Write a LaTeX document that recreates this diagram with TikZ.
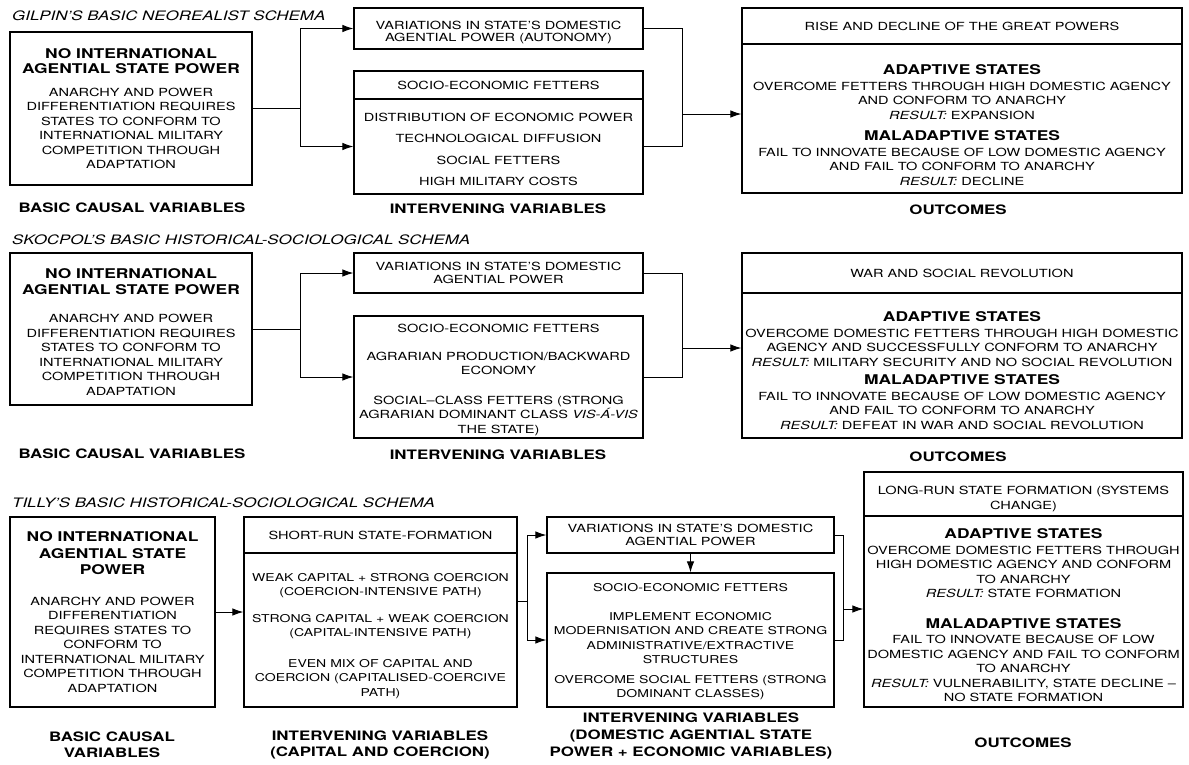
\documentclass[tikz,border=0pt]{standalone}
\usepackage{fontspec}
\setmainfont{TeX Gyre Heros}[FakeStretch=1.3]
\usetikzlibrary{arrows.meta}

\newcommand{\bighead}[1]{{\fontsize{13.4}{16}\selectfont\bfseries #1}}
\newcommand{\resultlabel}{\textit{RESULT:}}
\newcommand{\lift}[1]{\rule{0pt}{#1pt}}

\begin{document}
\begin{tikzpicture}[x=1pt,y=-1pt]
		\tikzset{box/.style = {draw, line width=1.1pt, align=center, inner sep=1.5pt, font=\fontsize{11.2}{14.5}\selectfont},
			tight/.style = {font=\fontsize{11.2}{12.5}\selectfont},
			small/.style = {font=\fontsize{10.8}{14.5}\selectfont},
			caption/.style = {align=center, font=\fontsize{13}{16}\selectfont\bfseries},
			heading/.style = {anchor=west, inner sep=0pt, font=\fontsize{13}{16}\selectfont\itshape},
			wire/.style = {line width=1pt},
			arr/.style = {wire, -{Latex[length=11pt,width=7.5pt]}}}

		\useasboundingbox (0,0) rectangle (1189,764);

		\node[heading] (T_1) at (12,16) {GILPIN'S BASIC NEOREALIST SCHEMA};
		\node[heading] (T_2) at (12,240) {SKOCPOL'S BASIC HISTORICAL-SOCIOLOGICAL SCHEMA};
		\node[heading] (T_3) at (12,503) {TILLY'S BASIC HISTORICAL-SOCIOLOGICAL SCHEMA};


		\node[box, minimum width=242, minimum height=153] (A_1) at (131,108.5) {\bighead{NO INTERNATIONAL}\\[1pt] \bighead{AGENTIAL STATE POWER}\\[8pt] ANARCHY AND POWER\\ DIFFERENTIATION REQUIRES\\ STATES TO CONFORM TO\\ INTERNATIONAL MILITARY\\ COMPETITION THROUGH\\ ADAPTATION};
		\node[box, tight, minimum width=289, minimum height=41] (V_1) at (498.5,28.5) {\lift{16.5}VARIATIONS IN STATE'S DOMESTIC\\ AGENTIAL POWER (AUTONOMY)};
		\node[box, minimum width=289, minimum height=28] (H_1) at (498.5,85) {SOCIO-ECONOMIC FETTERS};
		\node[box, minimum width=289, minimum height=95] (G_1) at (498.5,146.5) {\lift{14.5}DISTRIBUTION OF ECONOMIC POWER\\[7pt] TECHNOLOGICAL DIFFUSION\\[7pt] SOCIAL FETTERS\\[7pt] HIGH MILITARY COSTS};
		\node[box, minimum width=440, minimum height=36] (O_1) at (962,26) {RISE AND DECLINE OF THE GREAT POWERS};
		\node[box, minimum width=440, minimum height=149] (P_1) at (962,118.5) {\lift{23}\bighead{ADAPTIVE STATES}\\[1pt] OVERCOME FETTERS THROUGH HIGH DOMESTIC AGENCY\\ AND CONFORM TO ANARCHY\\ \resultlabel{} EXPANSION\\[7pt] \bighead{MALADAPTIVE STATES}\\[1pt] FAIL TO INNOVATE BECAUSE OF LOW DOMESTIC AGENCY\\ AND FAIL TO CONFORM TO ANARCHY\\ \resultlabel{} DECLINE};

		\node[caption] (L_1) at (132,208) {BASIC CAUSAL VARIABLES};
		\node[caption] (M_1) at (498,209) {INTERVENING VARIABLES};
		\node[caption] (N_1) at (958,210) {OUTCOMES};

		\coordinate (J_1) at (300,108.5);
		\coordinate (K_1) at (682,114);

		\draw[wire] (A_1.east) -- (J_1);
		\draw[arr] (J_1) |- (V_1);
		\draw[arr] (J_1) |- (G_1);
		\draw[wire] (V_1) -| (K_1);
		\draw[wire] (G_1) -| (K_1);
		\draw[arr] (K_1) -- (K_1 -| P_1.west);


		\node[box, minimum width=242, minimum height=152] (A_2) at (131,329) {\lift{16}\bighead{NO INTERNATIONAL}\\[1pt] \bighead{AGENTIAL STATE POWER}\\[14pt] ANARCHY AND POWER\\ DIFFERENTIATION REQUIRES\\ STATES TO CONFORM TO\\ INTERNATIONAL MILITARY\\ COMPETITION THROUGH\\ ADAPTATION};
		\node[box, tight, minimum width=289, minimum height=40] (V_2) at (498.5,273) {VARIATIONS IN STATE'S DOMESTIC\\ AGENTIAL POWER};
		\node[box, minimum width=289, minimum height=122] (G_2) at (498.5,377) {\lift{14.5}SOCIO-ECONOMIC FETTERS\\[13pt] AGRARIAN PRODUCTION/BACKWARD\\ ECONOMY\\[15pt] SOCIAL--CLASS FETTERS (STRONG\\ AGRARIAN DOMINANT CLASS \textit{VIS-Á-VIS}\\ THE STATE)};
		\node[box, minimum width=440, minimum height=40] (O_2) at (962,273) {WAR AND SOCIAL REVOLUTION};
		\node[box, minimum width=440, minimum height=145] (P_2) at (962,365.5) {\lift{20}\bighead{ADAPTIVE STATES}\\[1pt] OVERCOME DOMESTIC FETTERS THROUGH HIGH DOMESTIC\\ AGENCY AND SUCCESSFULLY CONFORM TO ANARCHY\\ \resultlabel{} MILITARY SECURITY AND NO SOCIAL REVOLUTION\\[4pt] \bighead{MALADAPTIVE STATES}\\[1pt] FAIL TO INNOVATE BECAUSE OF LOW DOMESTIC AGENCY\\ AND FAIL TO CONFORM TO ANARCHY\\ \resultlabel{} DEFEAT IN WAR AND SOCIAL REVOLUTION};

		\node[caption] (L_2) at (132,454) {BASIC CAUSAL VARIABLES};
		\node[caption] (M_2) at (498,455) {INTERVENING VARIABLES};
		\node[caption] (N_2) at (958,457) {OUTCOMES};

		\coordinate (J_2) at (300,329);
		\coordinate (K_2) at (682,348);

		\draw[wire] (A_2.east) -- (J_2);
		\draw[arr] (J_2) |- (V_2);
		\draw[arr] (J_2) |- (G_2);
		\draw[wire] (V_2) -| (K_2);
		\draw[wire] (G_2) -| (K_2);
		\draw[arr] (K_2) -- (K_2 -| P_2.west);


		\node[box, minimum width=205, minimum height=190] (A_3) at (112.5,612) {\bighead{NO INTERNATIONAL}\\[2pt] \bighead{AGENTIAL STATE}\\[2pt] \bighead{POWER}\\[16pt] ANARCHY AND POWER\\ DIFFERENTIATION\\ REQUIRES STATES TO\\ CONFORM TO\\ INTERNATIONAL MILITARY\\ COMPETITION THROUGH\\ ADAPTATION};
		\node[box, minimum width=273, minimum height=36] (H_3) at (380.5,535) {SHORT-RUN STATE-FORMATION};
		\node[box, small, minimum width=273, minimum height=154] (I_3) at (380.5,630) {\lift{20}WEAK CAPITAL + STRONG COERCION\\ (COERCION-INTENSIVE PATH)\\[12pt] STRONG CAPITAL + WEAK COERCION\\ (CAPITAL-INTENSIVE PATH)\\[16pt] EVEN MIX OF CAPITAL AND\\ COERCION (CAPITALISED-COERCIVE\\ PATH)};
		\node[box, tight, minimum width=287, minimum height=36] (V_3) at (690.5,535) {VARIATIONS IN STATE'S DOMESTIC\\ AGENTIAL POWER};
		\node[box, small, minimum width=287, minimum height=134] (G_3) at (690.5,640) {\lift{12}SOCIO-ECONOMIC FETTERS\\[14pt] IMPLEMENT ECONOMIC\\ MODERNISATION AND CREATE STRONG\\ ADMINISTRATIVE/EXTRACTIVE\\ STRUCTURES\\[5pt] OVERCOME SOCIAL FETTERS (STRONG\\ DOMINANT CLASSES)};
		\node[box, minimum width=319, minimum height=44] (O_3) at (1023.5,494) {\lift{18.5}LONG-RUN STATE FORMATION (SYSTEMS\\ CHANGE)};
		\node[box, minimum width=319, minimum height=191] (P_3) at (1023.5,611.5) {\lift{17.5}\bighead{ADAPTIVE STATES}\\[1pt] OVERCOME DOMESTIC FETTERS THROUGH\\ HIGH DOMESTIC AGENCY AND CONFORM\\ TO ANARCHY\\ \resultlabel{} STATE FORMATION\\[16pt] \bighead{MALADAPTIVE STATES}\\[1pt] FAIL TO INNOVATE BECAUSE OF LOW\\ DOMESTIC AGENCY AND FAIL TO CONFORM\\ TO ANARCHY\\ \resultlabel{} VULNERABILITY, STATE DECLINE --\\ NO STATE FORMATION};

		\node[caption] (L_3) at (112,744.5) {BASIC CAUSAL\\ VARIABLES};
		\node[caption] (M_3) at (380,744.5) {INTERVENING VARIABLES\\ (CAPITAL AND COERCION)};
		\node[caption, font=\fontsize{13}{17}\selectfont\bfseries] (Q_3) at (691,736) {INTERVENING VARIABLES\\ (DOMESTIC AGENTIAL STATE\\ POWER + ECONOMIC VARIABLES)};
		\node[caption] (N_3) at (1023,743) {OUTCOMES};

		\coordinate (J_3) at (527,601);
		\coordinate (K_3) at (843,609);

		\draw[arr] (A_3.east) -- (A_3.east -| I_3.west);
		\draw[wire] (J_3 -| I_3.east) -- (J_3);
		\draw[arr] (J_3) |- (V_3);
		\draw[arr] (J_3) |- (G_3);
		\draw[arr] (V_3) -- (G_3);
		\draw[wire] (V_3) -| (K_3);
		\draw[wire] (G_3) -| (K_3);
		\draw[arr] (K_3) -- (K_3 -| P_3.west);

	\end{tikzpicture}
\end{document}
